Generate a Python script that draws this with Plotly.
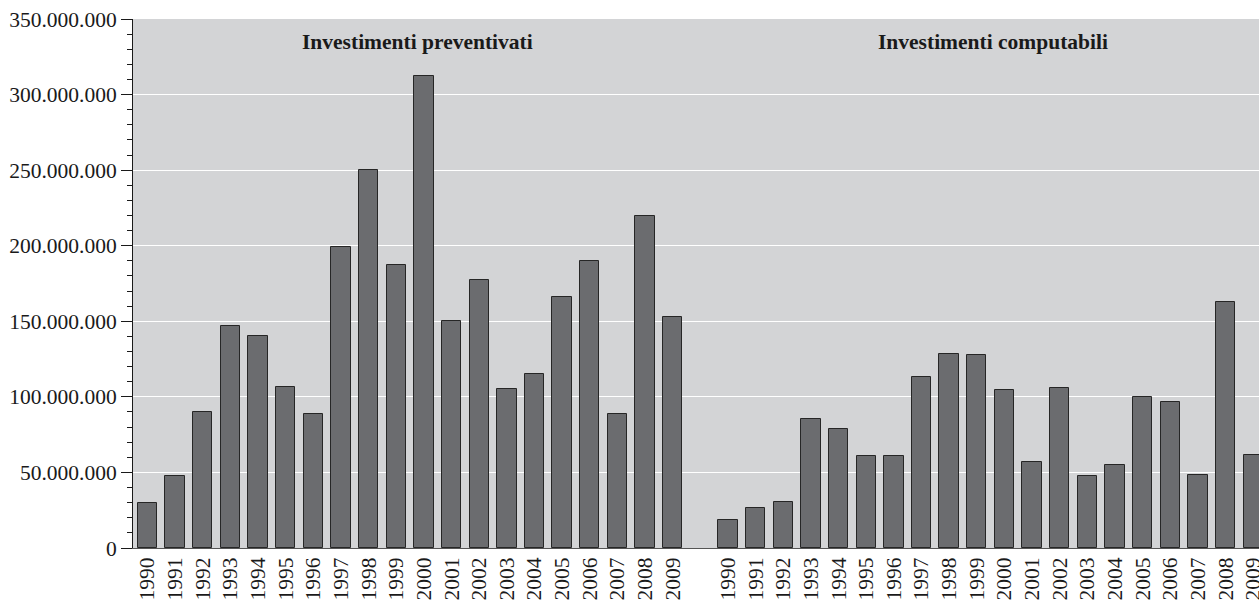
import plotly.graph_objects as go

YEARS = [str(y) for y in range(1990, 2010)]

# Investimenti preventivati (euro)
PREVENTIVATI = [
    30_000_000, 47_500_000, 89_700_000, 146_600_000, 140_200_000,
    106_200_000, 88_700_000, 199_000_000, 250_300_000, 187_000_000,
    312_600_000, 150_100_000, 177_000_000, 105_000_000, 115_000_000,
    165_800_000, 189_600_000, 88_500_000, 219_500_000, 152_800_000,
]

# Investimenti computabili (euro)
COMPUTABILI = [
    18_300_000, 26_700_000, 30_700_000, 85_200_000, 78_800_000,
    61_200_000, 61_200_000, 113_200_000, 128_100_000, 127_800_000,
    104_400_000, 56_800_000, 105_600_000, 47_900_000, 55_200_000,
    99_600_000, 96_700_000, 48_600_000, 162_700_000, 61_600_000,
]

GROUP_TITLES = ["Investimenti preventivati", "Investimenti computabili"]

FONT = "Liberation Serif, Times New Roman, serif"
BAR_FILL = "#6b6c6f"
BAR_EDGE = "#262626"
PLOT_BG = "#d3d4d6"

# left group on slots 0..19, one empty slot, right group on 21..40
left_x = list(range(len(YEARS)))
right_x = [len(YEARS) + 1 + i for i in range(len(YEARS))]

fig = go.Figure()
for xs, values in ((left_x, PREVENTIVATI), (right_x, COMPUTABILI)):
    fig.add_trace(
        go.Bar(
            x=xs,
            y=values,
            width=0.70,
            marker=dict(color=BAR_FILL, line=dict(color=BAR_EDGE, width=1)),
            showlegend=False,
        )
    )

centers = [sum(left_x) / len(left_x) + 0.25, sum(right_x) / len(right_x) + 0.1]
for cx, title in zip(centers, GROUP_TITLES):
    fig.add_annotation(
        x=cx, y=335_000_000, xref="x", yref="y",
        text=f"<b>{title}</b>", showarrow=False,
        font=dict(family=FONT, size=21.5, color="#1a1a1a"),
    )

fig.update_layout(
    width=1259,
    height=600,
    margin=dict(l=133, r=0, t=19, b=52),
    paper_bgcolor="white",
    plot_bgcolor=PLOT_BG,
    separators=",.",
    bargap=0,
    font=dict(family=FONT, size=21.5, color="#1a1a1a"),
)
fig.update_xaxes(
    range=[-0.525, 40.21],
    tickvals=left_x + right_x,
    ticktext=YEARS + YEARS,
    tickangle=-90,
    ticks="",
    ticklabeloverflow="allow",
    showgrid=False,
    zeroline=False,
    showline=True,
    linecolor="#555555",
    linewidth=1,
    automargin=False,
    tickfont=dict(family=FONT, size=21.5, color="#1a1a1a"),
)
fig.update_yaxes(
    range=[0, 350_000_000],
    dtick=50_000_000,
    tickformat=",d",
    ticks="outside",
    ticklen=11,
    tickcolor="#1a1a1a",
    showline=True,
    linecolor="#1a1a1a",
    linewidth=1,
    showgrid=True,
    gridcolor="white",
    gridwidth=1.2,
    zeroline=False,
    automargin=False,
    minor=dict(dtick=10_000_000, ticks="outside", ticklen=5, tickcolor="#1a1a1a", showgrid=False),
    tickfont=dict(family=FONT, size=21.5, color="#1a1a1a"),
)

# drop the default page margin so the figure sits flush in the window
fig.write_html(
    "out.html",
    config={"displayModeBar": False},
    post_script="document.body.style.margin='0';document.body.style.overflow='hidden';",
)
